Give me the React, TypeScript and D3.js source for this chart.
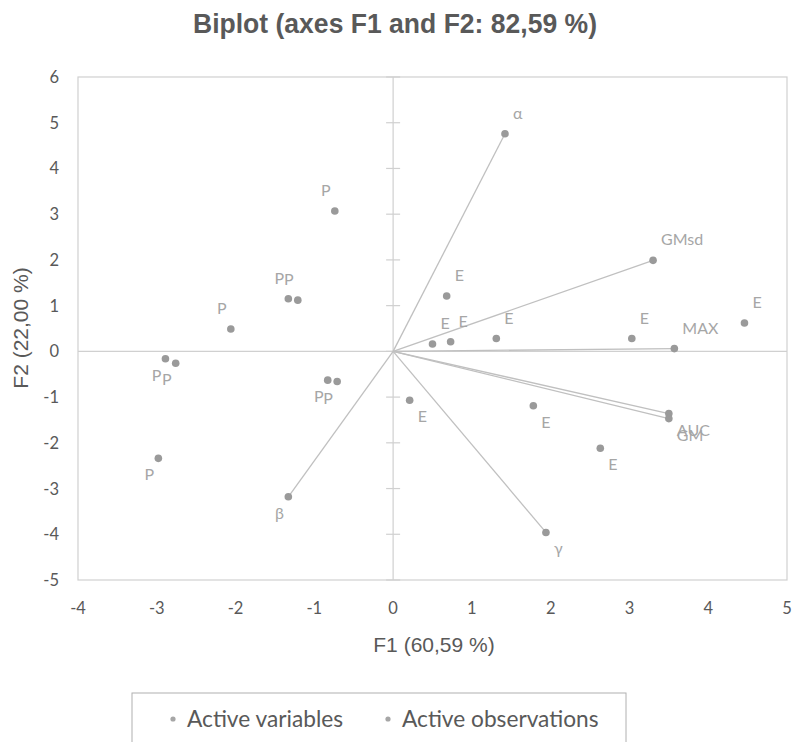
import React from "react";
import * as d3 from "d3";

const W = 794;
const H = 742;

const title = "Biplot (axes F1 and F2: 82,59 %)";
const xTitle = "F1 (60,59 %)";
const yTitle = "F2 (22,00 %)";
const xTicks = [-4, -3, -2, -1, 0, 1, 2, 3, 4, 5];
const yTicks = [-5, -4, -3, -2, -1, 0, 1, 2, 3, 4, 5, 6];

const varNames = ["α", "GMsd", "MAX", "AUC", "GM", "γ", "β"];
const varF1 = [1.42, 3.3, 3.57, 3.5, 3.5, 1.94, -1.33];
const varF2 = [4.76, 1.99, 0.06, -1.36, -1.47, -3.96, -3.18];

const obsNames = ["P", "P", "P", "P", "P", "P", "P", "P", "P", "E", "E", "E", "E", "E", "E", "E", "E", "E"];
const obsF1 = [-0.74, -1.33, -1.21, -2.06, -2.89, -2.76, -0.83, -0.71, -2.98, 0.68, 0.5, 0.73, 1.31, 3.03, 4.46, 0.21, 1.78, 2.63];
const obsF2 = [3.07, 1.15, 1.12, 0.49, -0.16, -0.26, -0.63, -0.66, -2.34, 1.21, 0.16, 0.21, 0.28, 0.28, 0.62, -1.07, -1.19, -2.12];

const legendItems = ["Active variables", "Active observations"];

const FONT = "Lato, 'Open Sans', sans-serif";
const ARIAL = "'Liberation Sans', Arial, sans-serif";
const TXT = "#595959";
const LBL = "#a6a6a6";
const DOT = "#9a9a9a";
const LINE = "#c0c0c0";
const GRID = "#d0d0d0";

export default function App() {
  const m = { left: 78, right: 787, top: 77, bottom: 580 };
  const x = d3.scaleLinear().domain([-4, 5]).range([m.left, m.right]);
  const y = d3.scaleLinear().domain([-5, 6]).range([m.bottom, m.top]);

  const label = (px: number, py: number, vx: number, vy: number, text: string, key: string) => {
    const above = vy >= 0;
    const ty = above ? py - 15 : py + 22;
    if (vx >= 0) {
      return (
        <text key={key} x={px + 8} y={ty} textAnchor="start" fontSize={16} fill={LBL} fontFamily={FONT}>
          {text}
        </text>
      );
    }
    return (
      <text key={key} x={px - 9} y={ty} textAnchor="middle" fontSize={16} fill={LBL} fontFamily={FONT}>
        {text}
      </text>
    );
  };

  return (
    <svg width={W} height={H} style={{ position: "absolute", left: 0, top: 0, background: "#fff" }}>
      <text x={395} y={33} textAnchor="middle" fontSize={27} fontWeight="bold" fill={TXT}
        fontFamily={ARIAL} textLength={404} lengthAdjust="spacingAndGlyphs">
        {title}
      </text>

      {/* plot box */}
      <rect x={m.left} y={m.top} width={m.right - m.left} height={m.bottom - m.top} fill="none" stroke={GRID} strokeWidth={1.2} />

      {/* axes through origin */}
      <line x1={m.left} x2={m.right} y1={y(0)} y2={y(0)} stroke={GRID} strokeWidth={1.2} />
      <line x1={x(0)} x2={x(0)} y1={m.top} y2={m.bottom} stroke={GRID} strokeWidth={1.2} />
      {yTicks.map((t) => (
        <line key={"yt" + t} x1={x(0) - 7} x2={x(0) + 7} y1={y(t)} y2={y(t)} stroke={GRID} strokeWidth={1.2} />
      ))}

      {/* tick labels */}
      {yTicks.map((t) => (
        <text key={"yl" + t} x={m.left - 19} y={y(t) + 6} textAnchor="end" fontSize={16.5} fill={TXT} fontFamily={FONT}>
          {t}
        </text>
      ))}
      {xTicks.map((t) => (
        <text key={"xl" + t} x={x(t)} y={m.bottom + 34} textAnchor="middle" fontSize={16.5} fill={TXT} fontFamily={FONT}>
          {t}
        </text>
      ))}

      {/* axis titles */}
      <text x={434} y={652} textAnchor="middle" fontSize={21} fill={TXT} fontFamily={ARIAL}>{xTitle}</text>
      <text transform={`translate(28,${328}) rotate(-90)`} textAnchor="middle" fontSize={21} fill={TXT} fontFamily={ARIAL}>{yTitle}</text>

      {/* variable vectors */}
      {varNames.map((n, i) => (
        <line key={"vl" + i} x1={x(0)} y1={y(0)} x2={x(varF1[i])} y2={y(varF2[i])} stroke={LINE} strokeWidth={1.3} />
      ))}
      {varNames.map((n, i) => (
        <circle key={"vc" + i} cx={x(varF1[i])} cy={y(varF2[i])} r={3.8} fill={DOT} />
      ))}
      {varNames.map((n, i) => label(x(varF1[i]), y(varF2[i]), varF1[i], varF2[i], n, "vt" + i))}

      {/* observations */}
      {obsNames.map((n, i) => (
        <circle key={"oc" + i} cx={x(obsF1[i])} cy={y(obsF2[i])} r={3.8} fill={DOT} />
      ))}
      {obsNames.map((n, i) => label(x(obsF1[i]), y(obsF2[i]), obsF1[i], obsF2[i], n, "ot" + i))}

      {/* legend */}
      <rect x={132} y={693} width={494} height={60} fill="#fff" stroke="#b0b0b0" strokeWidth={1} />
      <circle cx={173} cy={719} r={2.6} fill={LBL} />
      <text x={187} y={727} fontSize={22.7} fill={TXT} fontFamily={FONT}>{legendItems[0]}</text>
      <circle cx={388} cy={719} r={2.6} fill={LBL} />
      <text x={402} y={727} fontSize={22.7} fill={TXT} fontFamily={FONT}>{legendItems[1]}</text>
    </svg>
  );
}
